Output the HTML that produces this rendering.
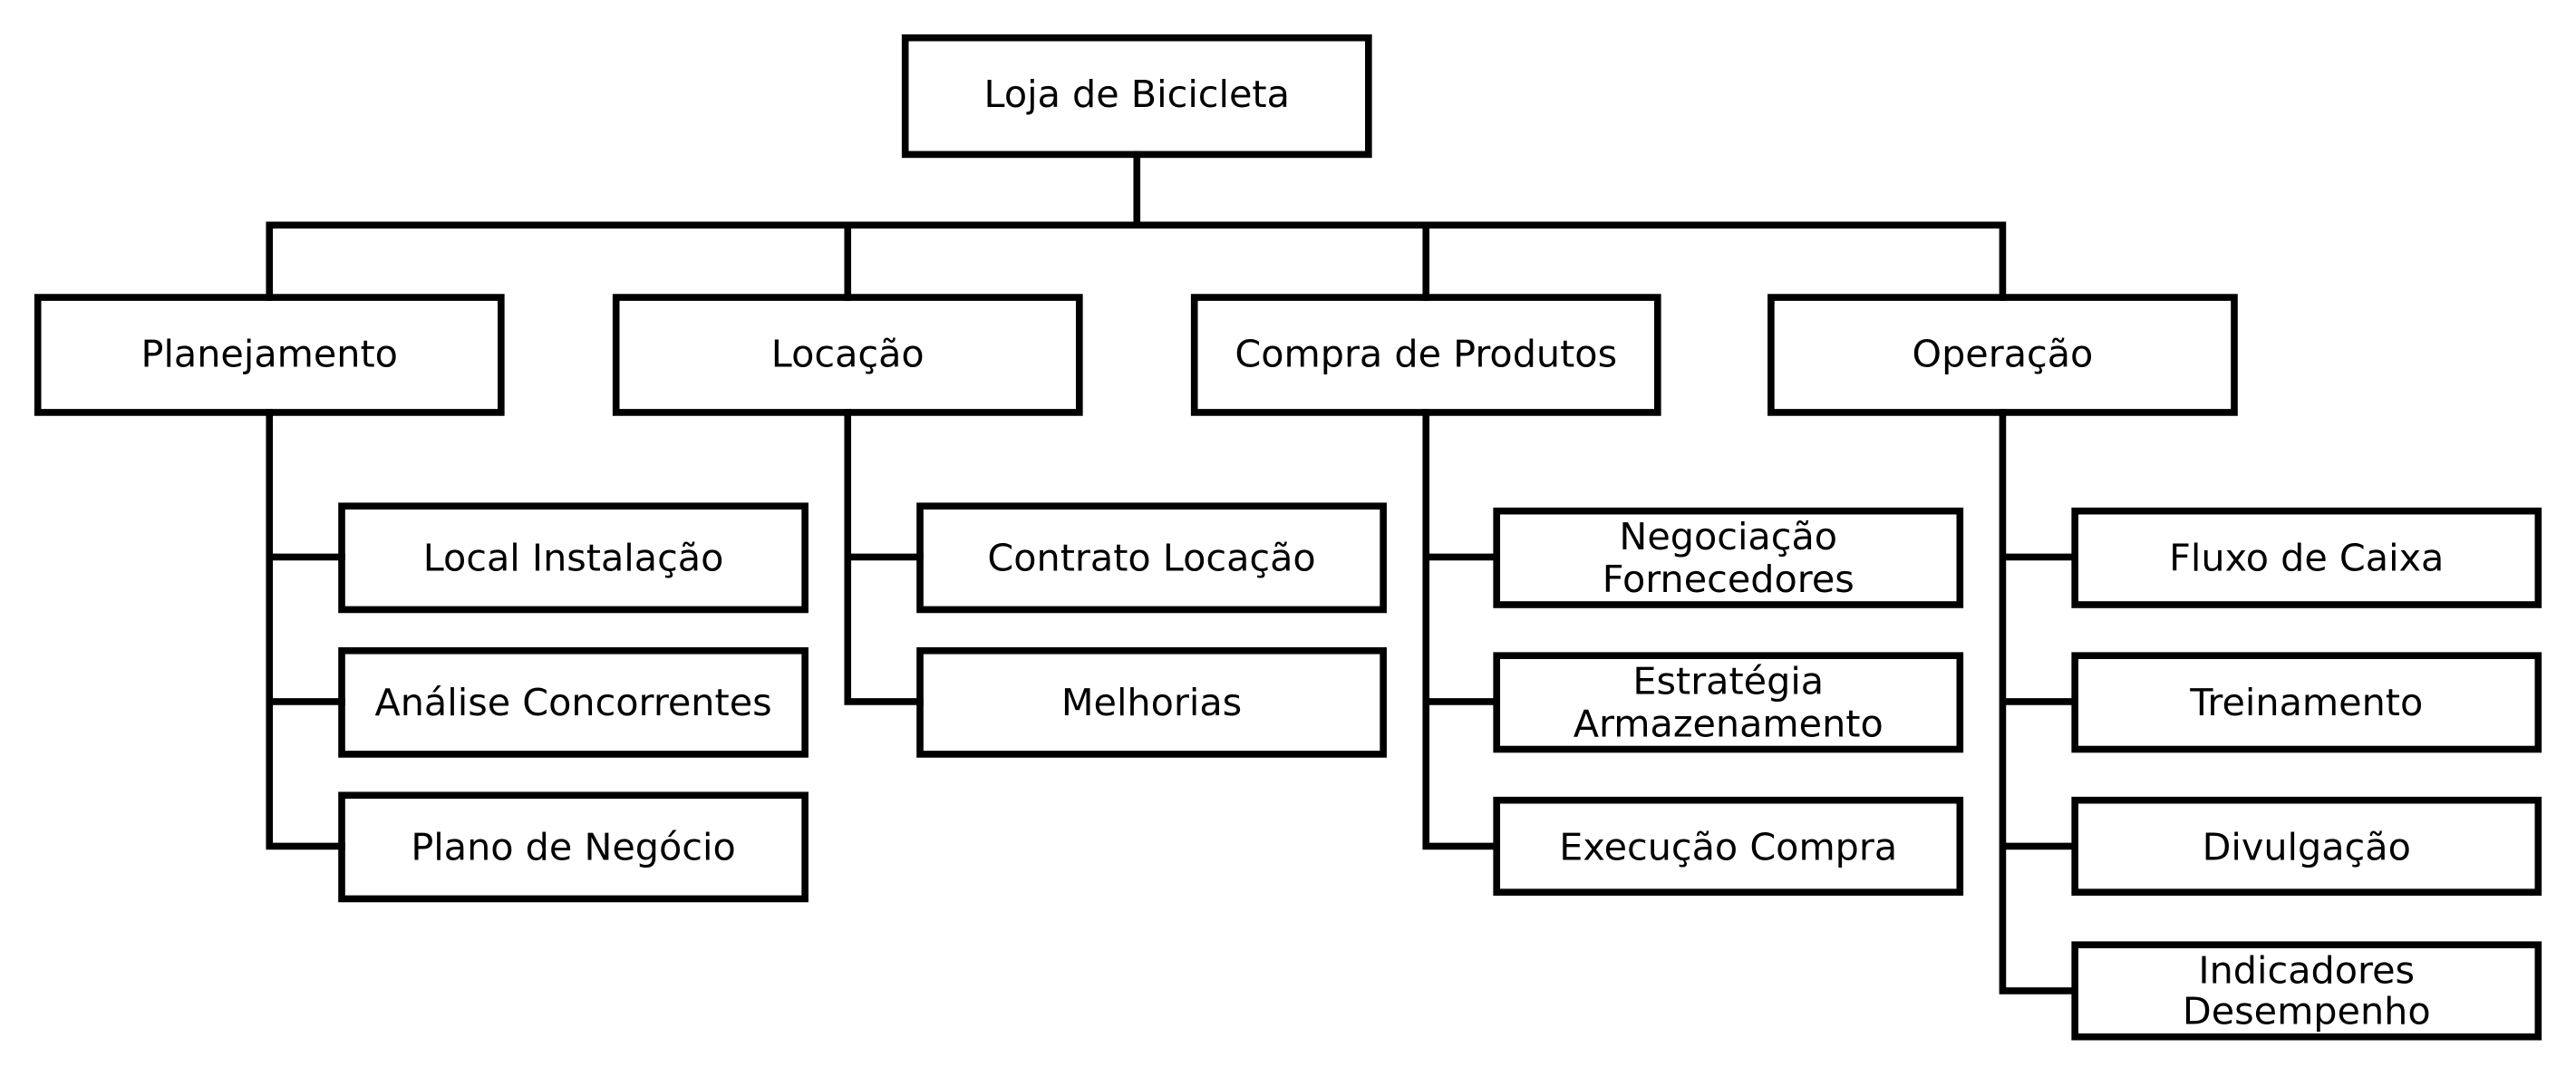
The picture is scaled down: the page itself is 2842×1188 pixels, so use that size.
<!DOCTYPE html>
<html><head><meta charset="utf-8"><style>
html,body{margin:0;padding:0;background:#fff;}
svg{display:block;}
text{font-family:"DejaVu Sans","Liberation Sans",sans-serif;font-size:22.8px;fill:#000;text-anchor:middle;dominant-baseline:central;}
</style></head><body>
<svg width="2842" height="1188" viewBox="0 0 1568 655.45" xmlns="http://www.w3.org/2000/svg">
<g fill="none" stroke="#000" stroke-width="4.2" stroke-linecap="square">
<path d="M692 94V137M164 137H1219M164 137V181M516 137V181M868 137V181M1219 137V181"/>
<path d="M164 251V515M164 339H208M164 427H208M164 515H208"/>
<path d="M516 251V427M516 339H560M516 427H560"/>
<path d="M868 251V515M868 339H911M868 427H911M868 515H911"/>
<path d="M1219 251V603M1219 339H1263M1219 427H1263M1219 515H1263M1219 603H1263"/>
<rect x="551" y="23" width="282" height="71"/>
<rect x="23" y="181" width="282" height="70"/>
<rect x="375" y="181" width="282" height="70"/>
<rect x="727" y="181" width="282" height="70"/>
<rect x="1078" y="181" width="282" height="70"/>
<rect x="208" y="308" width="282" height="63"/>
<rect x="208" y="396" width="282" height="63"/>
<rect x="208" y="484" width="282" height="63"/>
<rect x="560" y="308" width="282" height="63"/>
<rect x="560" y="396" width="282" height="63"/>
<rect x="911" y="311" width="282" height="57"/>
<rect x="911" y="399" width="282" height="57"/>
<rect x="911" y="487" width="282" height="56"/>
<rect x="1263" y="311" width="282" height="57"/>
<rect x="1263" y="399" width="282" height="57"/>
<rect x="1263" y="487" width="282" height="56"/>
<rect x="1263" y="575" width="282" height="56"/>
</g>
<text x="692" y="57.5">Loja de Bicicleta</text>
<text x="164" y="215.5">Planejamento</text>
<text x="516" y="215.5">Locação</text>
<text x="868" y="215.5">Compra de Produtos</text>
<text x="1219" y="215.5">Operação</text>
<text x="349" y="339.5">Local Instalação</text>
<text x="349" y="427.5">Análise Concorrentes</text>
<text x="349" y="515.5">Plano de Negócio</text>
<text x="701" y="339.5">Contrato Locação</text>
<text x="701" y="427.5">Melhorias</text>
<text x="1052" y="326.5">Negociação</text>
<text x="1052" y="352.5">Fornecedores</text>
<text x="1052" y="414.5">Estratégia</text>
<text x="1052" y="440.5">Armazenamento</text>
<text x="1052" y="515.5">Execução Compra</text>
<text x="1404" y="339.5">Fluxo de Caixa</text>
<text x="1404" y="427.5">Treinamento</text>
<text x="1404" y="515.5">Divulgação</text>
<text x="1404" y="590.5">Indicadores</text>
<text x="1404" y="615.5">Desempenho</text>
</svg>
</body></html>
